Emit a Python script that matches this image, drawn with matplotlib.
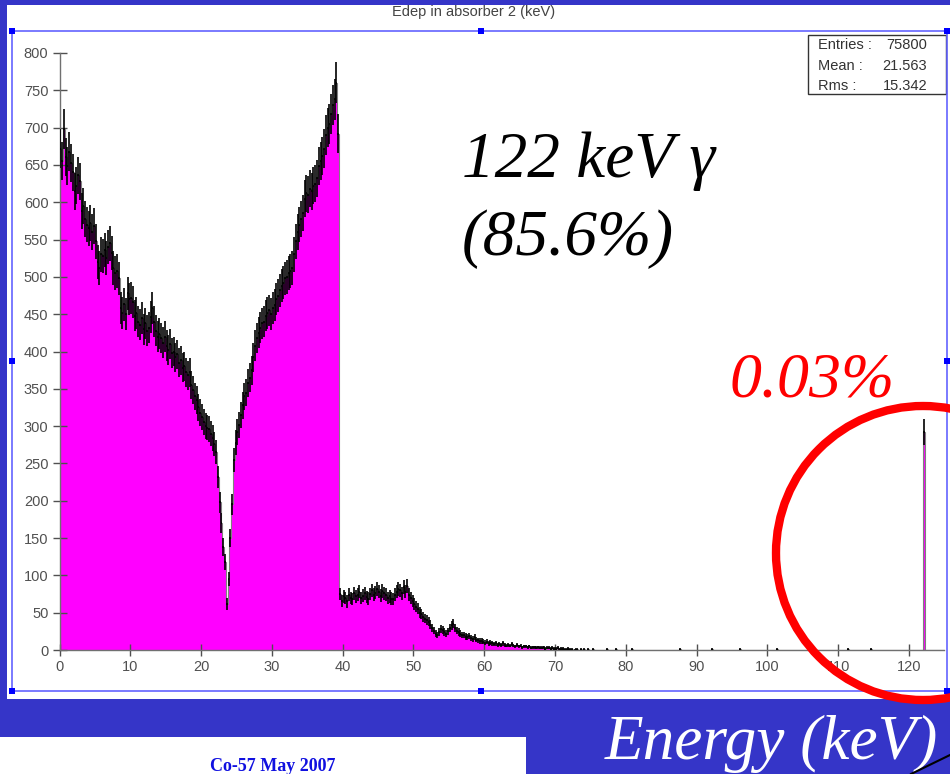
import numpy as np
import matplotlib
matplotlib.use("Agg")
import matplotlib.pyplot as plt
from matplotlib.patches import Rectangle, Ellipse
from matplotlib.lines import Line2D

W, H = 950, 774

# Histogram: 0.25 keV bins from 0 to 125 keV.
BIN_W = 0.25
X_MAX = 125.0

# Counts per bin, 0 - 40 keV (two keV per row).
counts_0_40 = [
    672, 655, 698, 661, 648, 668, 652, 640,
    615, 622, 636, 628, 588, 595, 578, 570,
    565, 572, 560, 568, 548, 520, 512, 530,
    528, 536, 525, 540, 545, 532, 512, 505,
    508, 498, 458, 452, 463, 450, 478, 470,
    472, 466, 448, 452, 440, 436, 445, 430,
    438, 428, 432, 446, 458, 440, 428, 420,
    424, 418, 412, 420, 408, 402, 410, 398,
    400, 392, 396, 385, 388, 378, 380, 372,
    368, 372, 355, 348, 340, 335, 325, 318,
    312, 305, 300, 298, 296, 290, 284, 276,
    265, 232, 198, 170, 138, 118, 62, 95,
    150, 195, 255, 278, 292, 302, 315, 328,
    340, 345, 358, 365, 375, 392, 408, 418,
    425, 432, 438, 440, 448, 452, 455, 450,
    458, 462, 470, 475, 482, 488, 492, 498,
    500, 505, 508, 512, 530, 548, 560, 570,
    578, 585, 605, 612, 610, 618, 615, 622,
    625, 632, 648, 655, 662, 672, 690, 700,
    705, 718, 730, 738, 760, 692, 75, 66,
]

# Counts per bin, 40 - 76 keV.
counts_40_76 = [
    72, 70, 65, 74, 70, 68, 76, 72,
    74, 78, 70, 73, 76, 71, 69, 75,
    80, 74, 77, 82, 78, 73, 79, 76,
    74, 70, 72, 69, 68, 74, 78, 82,
    80, 76, 84, 78, 86, 74, 70, 66,
    62, 58, 55, 50, 48, 44, 42, 40,
    38, 34, 30, 26, 22, 20, 24, 28,
    27, 24, 22, 25, 30, 33, 35, 30,
    26, 24, 22, 20, 20, 18, 17, 19,
    16, 15, 17, 14, 13, 12, 12, 11,
    10, 11, 9, 10, 9, 8, 9, 7,
    8, 7, 9, 7, 6, 7, 6, 8,
    6, 5, 7, 5, 6, 4, 5, 5,
    4, 5, 3, 4, 4, 3, 4, 3,
    3, 4, 2, 3, 3, 2, 3, 2,
    2, 3, 1, 2, 2, 1, 1, 2,
    1, 1, 0, 1, 1, 0, 1, 0,
    1, 0, 1, 0, 0, 1, 0, 0,
]

# Isolated single-count bins above 76 keV and the 122 keV photopeak.
single_hits_kev = [77.4, 78.5, 80.9, 87.7, 92.1, 96.1, 101.3, 111.4, 114.5]
peak_kev = 122.0
peak_count = 292

x_ticks = [0, 10, 20, 30, 40, 50, 60, 70, 80, 90, 100, 110, 120]
y_ticks = [0, 50, 100, 150, 200, 250, 300, 350, 400, 450, 500, 550, 600,
           650, 700, 750, 800]

stats_labels = ["Entries :", "Mean :", "Rms :"]
stats_values = ["75800", "21.563", "15.342"]

SLIDE_BLUE = "#3535c8"
MAGENTA = "#ff00ff"


def fx(x):
    return x / W


def fy(y):
    return 1 - y / H


# Assemble the histogram.
edges = np.arange(0, X_MAX + BIN_W / 2, BIN_W)
counts = np.zeros(len(edges) - 1)
counts[:len(counts_0_40)] = counts_0_40
counts[len(counts_0_40):len(counts_0_40) + len(counts_40_76)] = counts_40_76
for e in single_hits_kev:
    counts[int(e / BIN_W)] += 1
counts[int(peak_kev / BIN_W)] = peak_count
centers = (edges[:-1] + edges[1:]) / 2

fig = plt.figure(figsize=(W / 100, H / 100), dpi=100, facecolor=SLIDE_BLUE)

# White slide panels.
fig.add_artist(Rectangle((fx(7), fy(699)), fx(950 - 7), (699 - 5) / H,
                         transform=fig.transFigure, facecolor="white",
                         edgecolor="none", zorder=-2))
fig.add_artist(Rectangle((0, 0), fx(526), (H - 737) / H,
                         transform=fig.transFigure, facecolor="white",
                         edgecolor="none", zorder=-2))

# Plot axes.
ax = fig.add_axes([fx(59.5), fy(650), fx(944.4 - 59.5), (650 - 53) / H])
ax.set_facecolor("white")
ax.stairs(counts, edges, fill=True, color=MAGENTA, zorder=1)
ax.stairs(counts, edges, color="#808080", lw=0.8, zorder=2)
nz = counts > 0
ax.errorbar(centers[nz], counts[nz], yerr=np.sqrt(counts[nz]),
            xerr=BIN_W / 2, fmt="none", ecolor="black", elinewidth=1.2,
            capsize=0, zorder=3)

ax.set_xlim(0, X_MAX)
ax.set_ylim(0, 800)
for side in ["top", "right"]:
    ax.spines[side].set_visible(False)
for side in ["left", "bottom"]:
    ax.spines[side].set_color("#707070")
    ax.spines[side].set_linewidth(1)
ax.set_xticks(x_ticks)
ax.set_yticks(y_ticks)
ax.tick_params(axis="x", direction="inout", length=8, width=1,
               color="#505050", labelcolor="#505050", labelsize=10.5, pad=3,
               labelfontfamily="Liberation Sans")
ax.tick_params(axis="y", direction="inout", length=10, width=1,
               color="#505050", labelcolor="#505050", labelsize=10.5, pad=3,
               labelfontfamily="Liberation Sans")

# ROOT canvas title.
fig.text(fx(474), fy(12), "Edep in absorber 2 (keV)", ha="center",
         va="center", fontsize=10.5, color="#444444", family="Liberation Sans")

# Stats box.
fig.add_artist(Rectangle((fx(808), fy(94)), fx(946 - 808), (94 - 35) / H,
                         transform=fig.transFigure, facecolor="white",
                         edgecolor="#333333", lw=1, zorder=4))
for i, (lab, val) in enumerate(zip(stats_labels, stats_values)):
    yb = fy(49 + i * 20.5)
    fig.text(fx(818), yb, lab, ha="left", va="baseline", fontsize=10.5,
             color="#333333", family="Liberation Sans", zorder=5)
    fig.text(fx(927), yb, val, ha="right", va="baseline", fontsize=10.5,
             color="#333333", family="Liberation Sans", zorder=5)

# Selection frame with handles.
frame_col = "#6464ff"
for (x0, y0, x1, y1) in [(12, 31, 947, 31), (12, 691, 947, 691),
                         (12, 31, 12, 691), (947, 31, 947, 691)]:
    fig.add_artist(Line2D([fx(x0), fx(x1)], [fy(y0), fy(y1)],
                          transform=fig.transFigure, color=frame_col,
                          lw=1.2, zorder=4))
for (hx, hy) in [(12, 31), (481, 31), (947, 31), (12, 361), (947, 361),
                 (12, 691), (481, 691), (947, 691)]:
    fig.add_artist(Rectangle((fx(hx - 3), fy(hy + 3)), 6 / W, 6 / H,
                             transform=fig.transFigure, facecolor="#0000ff",
                             edgecolor="none", zorder=4))

# Slide annotations.
serif = "Liberation Serif"
fig.text(fx(462), fy(177), "122 keV \u03b3", ha="left", va="baseline",
         fontsize=47, style="italic", family=serif, color="black")
fig.text(fx(462), fy(255), "(85.6%)", ha="left", va="baseline",
         fontsize=47, style="italic", family=serif, color="black")
fig.text(fx(730), fy(397), "0.03%", ha="left", va="baseline",
         fontsize=46, style="italic", family=serif, color="red")
fig.text(fx(605), fy(759), "Energy (keV)", ha="left", va="baseline",
         fontsize=45.5, style="italic", family=serif, color="white")
fig.text(fx(273), fy(771), "Co-57 May 2007", ha="center", va="baseline",
         fontsize=13, weight="bold", family=serif, color="#1010e0")

fig.add_artist(Ellipse((fx(923), fy(553)), 294 / W, 294 / H,
                       transform=fig.transFigure, facecolor="none",
                       edgecolor="red", lw=6, zorder=6))
fig.add_artist(Line2D([fx(911), fx(950)], [fy(774), fy(755)],
                      transform=fig.transFigure, color="black", lw=1.5,
                      zorder=6))

fig.savefig("out.png", dpi=100, facecolor=SLIDE_BLUE)
